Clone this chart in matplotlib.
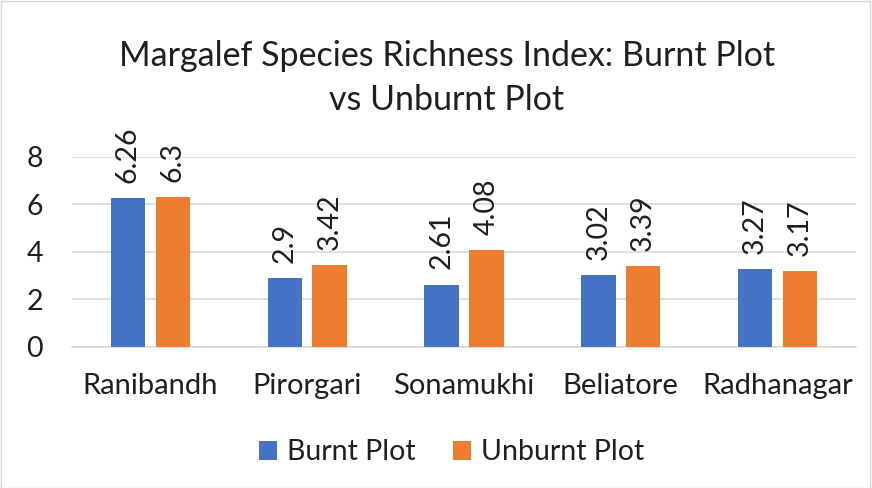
import matplotlib.pyplot as plt
import numpy as np

plt.rcParams['font.family'] = ['Lato', 'DejaVu Sans']

sites = ['Ranibandh', 'Pirorgari', 'Sonamukhi', 'Beliatore', 'Radhanagar']
burnt = [6.26, 2.9, 2.61, 3.02, 3.27]
unburnt = [6.3, 3.42, 4.08, 3.39, 3.17]
burnt_labels = ['6.26', '2.9', '2.61', '3.02', '3.27']
unburnt_labels = ['6.3', '3.42', '4.08', '3.39', '3.17']

blue = '#4472C4'
orange = '#ED7D31'
txt = '#1f1f1f'

fig = plt.figure(figsize=(8.72, 4.88), dpi=100)
ax = fig.add_axes([0.0826, 0.2896, 0.899, 0.3893])

x = np.arange(len(sites))
w = 0.22
off = 0.143
b1 = ax.bar(x - off, burnt, w, color=blue, label='Burnt Plot', zorder=3)
b2 = ax.bar(x + off, unburnt, w, color=orange, label='Unburnt Plot', zorder=3)

# value labels, rotated like the excel chart
for bars, labs in [(b1, burnt_labels), (b2, unburnt_labels)]:
    for rect, lab in zip(bars, labs):
        ax.annotate(lab, (rect.get_x() + rect.get_width() / 2, rect.get_height()),
                    xytext=(0, 11), textcoords='offset points', rotation=90,
                    ha='center', va='bottom', fontsize=20.5, color=txt)

ax.set_xlim(-0.5, 4.5)
ax.set_ylim(0, 8)
ax.set_yticks([0, 2, 4, 6, 8])
ax.set_xticks(x)
ax.set_xticklabels(sites)
ax.tick_params(axis='both', length=0, colors=txt)
ax.tick_params(axis='x', pad=19, labelsize=21)
ax.tick_params(axis='y', pad=21, labelsize=20.5)
ax.yaxis.grid(True, color='#D9D9D9', linewidth=1.2, zorder=0)
for s in ['top', 'right', 'left']:
    ax.spines[s].set_visible(False)
ax.spines['bottom'].set_color('#D9D9D9')
ax.spines['bottom'].set_linewidth(1.2)

fig.text(0.5126, 1 - 110 / 488, 'Margalef Species Richness Index: Burnt Plot\nvs Unburnt Plot',
         ha='center', va='baseline', fontsize=24.5, color=txt, linespacing=1.45)

fig.legend(handles=[b1, b2], loc='center', bbox_to_anchor=(0.518, 0.073), ncol=2,
           frameon=False, fontsize=20.5, handlelength=0.62, handleheight=0.62,
           columnspacing=1.3, handletextpad=0.37, borderaxespad=0, labelcolor=txt)

border = plt.Rectangle((0.001, 0.001), 0.997, 0.997, transform=fig.transFigure,
                       fill=False, edgecolor='#D9D9D9', linewidth=1)
fig.patches.append(border)

fig.savefig('out.png', dpi=100, facecolor='white')
